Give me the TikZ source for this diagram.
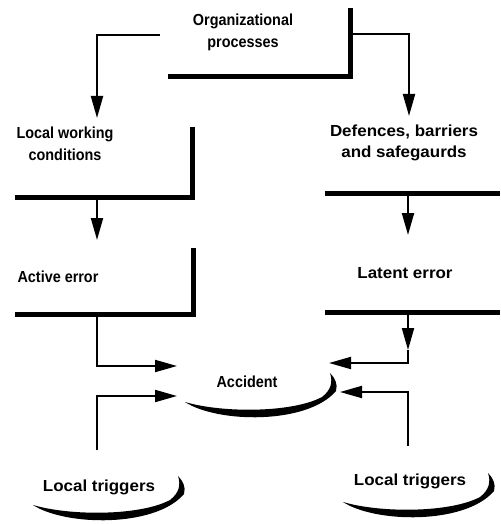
\documentclass[tikz,border=0pt]{standalone}
\usepackage{fontspec}
\setmainfont{Liberation Sans}[FakeStretch=0.9]
\newfontfamily\widesans{Liberation Sans}[FakeStretch=1.06]
\usetikzlibrary{arrows.meta}
\tikzset{
  crescent/.pic={
    \fill (0,0) .. controls (32,21) and (122,23) .. (151,-11)
          .. controls (153,-18) and (150,-24) .. (145,-29)
          .. controls (148,-20) and (146,-12) .. (137,-5)
          .. controls (107,11) and (37,11) .. (0,0) -- cycle;
  }
}
\begin{document}
\begin{tikzpicture}[x=1pt,y=-1pt,
  lbl/.style={font=\bfseries\fontsize{16}{22}\selectfont, align=center, inner sep=0pt},
  wlbl/.style={lbl, font=\widesans\bfseries\fontsize{16}{21}\selectfont},
  bar/.style={line width=5pt},
  link/.style={line width=2pt, -{Triangle[length=22pt,width=12pt]}},
  wire/.style={line width=2pt}]
\useasboundingbox (0,0) rectangle (500,524);

% labels
\node[lbl]  (org) at (243,32)  {Organizational\\processes};
\node[lbl]  (lwc) at (65,144)  {Local working\\conditions};
\node[wlbl] (dbs) at (404,143) {Defences, barriers\\and safegaurds};
\node[lbl]  (act) at (58,277)  {Active error};
\node[wlbl] (lat) at (405,273) {Latent error};
\node[lbl]  (acc) at (247,382) {Accident};
\node[wlbl] (trl) at (99,487)  {Local triggers};
\node[wlbl] (trr) at (410,481) {Local triggers};

% heavy bars framing the boxes
\draw[bar] (168,77) -- (350,77) -- (350,8);
\draw[bar] (15,197) -- (192,197) -- (192,127);
\draw[bar] (325,193) -- (500,193);
\draw[bar] (15,314) -- (193,314) -- (193,248);
\draw[bar] (325,312) -- (500,312);

% crescent outlines under the event nodes
\pic at (185,402) {crescent};
\pic at (33,505)  {crescent};
\pic at (343,502) {crescent};

% connector end points
\coordinate (orgL) at (160,35);
\coordinate (orgR) at (352,34);
\coordinate (lwcIn) at (97,118);
\coordinate (dbsIn) at (409,116);
\coordinate (lwcOut) at (97,199);
\coordinate (actIn) at (97,240);
\coordinate (dbsOut) at (408,195);
\coordinate (latIn) at (408,235);
\coordinate (actOut) at (97,316);
\coordinate (accA) at (177,366);
\coordinate (latOut) at (408,314);
\coordinate (latMid) at (408,350);
\coordinate (accL) at (329,363);
\coordinate (trlOut) at (97,450);
\coordinate (accT) at (177,396);
\coordinate (trrOut) at (408,446);
\coordinate (accR) at (340,392);

% connectors
\draw[link] (orgL) -| (lwcIn);
\draw[link] (orgR) -| (dbsIn);
\draw[link] (lwcOut) -- (actIn);
\draw[link] (dbsOut) -- (latIn);
\draw[link] (actOut) |- (accA);
\draw[link] (latOut) -- (latMid);
\draw[link] (latMid) |- (accL);
\draw[link] (trlOut) |- (accT);
\draw[link] (trrOut) |- (accR);
\end{tikzpicture}
\end{document}
